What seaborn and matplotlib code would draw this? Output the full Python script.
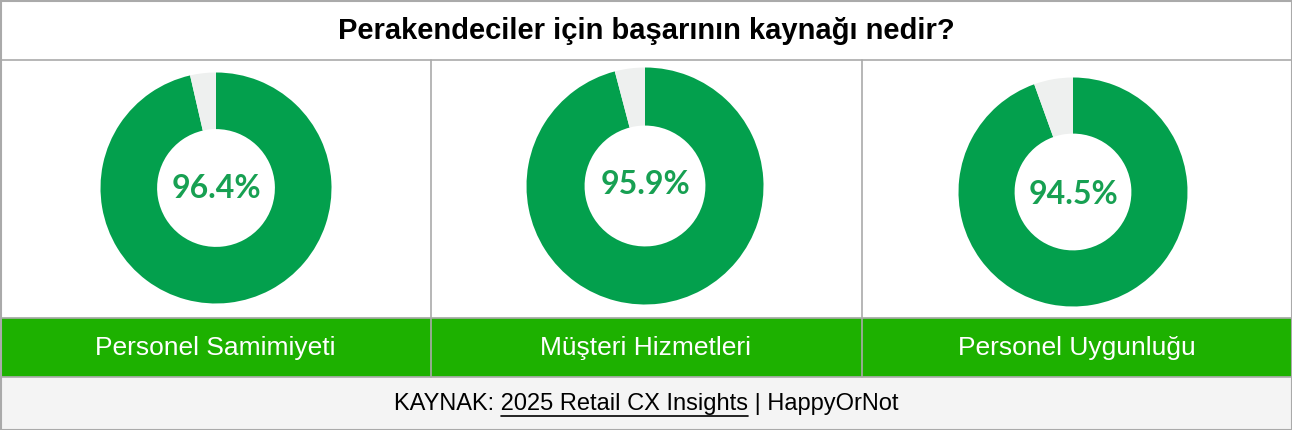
import matplotlib
matplotlib.use("Agg")
import matplotlib.pyplot as plt
import seaborn as sns
from matplotlib.patches import Rectangle

sns.set_theme(style="white")
plt.rcParams['font.family'] = ['Liberation Sans', 'DejaVu Sans']

# ---- data ----
title = "Perakendeciler için başarının kaynağı nedir?"
categories = ["Personel Samimiyeti", "Müşteri Hizmetleri", "Personel Uygunluğu"]
values = [96.4, 95.9, 94.5]
footer_pre = "KAYNAK: "
footer_link = "2025 Retail CX Insights"
footer_post = " | HappyOrNot"

# ---- style / layout ----
W, H = 1292, 430
GREEN = "#03a04d"
GAP = "#eef0ef"
BAR = "#1db100"
FOOT = "#f4f4f4"
LINE = "#aaaaaa"
TXT_GREEN = "#17a052"
centers = [(216, 188), (645, 186), (1073, 192)]
radii = [115.5, 118.5, 114.5]
label_y = [188, 184.5, 195]

fig = plt.figure(figsize=(W / 100, H / 100), dpi=100)
bg = fig.add_axes([0, 0, 1, 1])
bg.set_xlim(0, W)
bg.set_ylim(H, 0)
bg.axis("off")

# background blocks
bg.add_patch(Rectangle((0, 318), W, 59, color=BAR, zorder=0))
bg.add_patch(Rectangle((0, 377), W, 53, color=FOOT, zorder=0))
# lines
lw = 1.2
bg.plot([0, W], [60, 60], color=LINE, lw=lw)
bg.plot([0, W], [318, 318], color=LINE, lw=lw)
bg.plot([0, W], [377, 377], color=LINE, lw=lw)
for x in (430.5, 861.5):
    bg.plot([x, x], [60, 377], color=LINE, lw=lw)
bg.add_patch(Rectangle((0.5, 0.5), W - 1, H - 1, fill=False, ec=LINE, lw=1.5))

bg.text(W / 2, 31, title, ha="center", va="center", fontsize=21,
        fontweight="bold", color="black")

panel_w = W / 3
for i, (cat, v) in enumerate(zip(categories, values)):
    bg.text(panel_w * i + panel_w / 2, 348, cat, ha="center", va="center",
            fontsize=19, color="white")
    cx, cy = centers[i]
    r = radii[i]
    ax = fig.add_axes([(cx - r) / W, 1 - (cy + r) / H, 2 * r / W, 2 * r / H])
    ax.pie([v, 100 - v], startangle=90, counterclock=False,
           colors=[GREEN, GAP], radius=1,
           wedgeprops=dict(width=0.49, linewidth=0))
    ax.set_xlim(-1, 1)
    ax.set_ylim(-1, 1)
    ax.set_aspect("equal")
    ax.axis("off")
    bg.text(cx, label_y[i], f"{v:.1f}%", ha="center", va="center", fontsize=23,
            fontfamily=["Lato", "DejaVu Sans"], fontweight="bold", color=TXT_GREEN,
            zorder=10)

# footer with underlined link
fs = 17
full = footer_pre + footer_link + footer_post
t = bg.text(W / 2, 404, full, ha="center", va="center", fontsize=fs, color="black")
fig.canvas.draw()
rend = fig.canvas.get_renderer()
bb = t.get_window_extent(rend)
tmp = bg.text(0, 0, footer_pre + footer_link, fontsize=fs)
w_pl = tmp.get_window_extent(rend).width
tmp.set_text(footer_link)
w_l = tmp.get_window_extent(rend).width
tmp.remove()
x1 = bb.x0 + w_pl
x0 = x1 - w_l
yline = H - bb.y0 + 1
bg.plot([x0, x1], [yline, yline], color="black", lw=1.2)

fig.savefig("out.png", dpi=100)
